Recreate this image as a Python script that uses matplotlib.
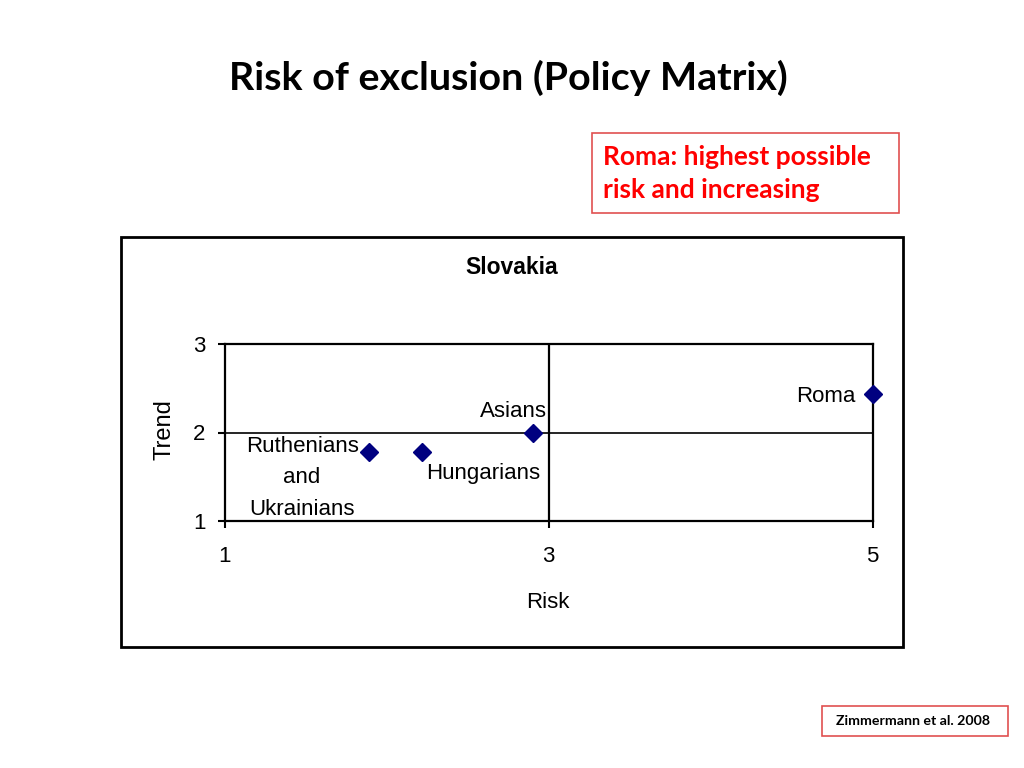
import matplotlib
matplotlib.use("Agg")
import matplotlib.pyplot as plt
from matplotlib.patches import Rectangle

# Data
groups = ["Ruthenians\nand\nUkrainians", "Hungarians", "Asians", "Roma"]
risk = [1.89, 2.22, 2.90, 5.0]
trend = [1.78, 1.78, 2.0, 2.44]
x_ticks = [1, 3, 5]
y_ticks = [1, 2, 3]

fig = plt.figure(figsize=(10.24, 7.68), dpi=100)
fig.patch.set_facecolor("white")

# slide title
fig.text(508/1024, 1-78/768, "Risk of exclusion (Policy Matrix)", ha="center", va="center",
         fontsize=28.4, fontweight="bold", family="Lato")

# red note box
fig.patches.append(Rectangle((592/1024, 1-213/768), 307/1024, 80/768, transform=fig.transFigure,
                             fill=False, edgecolor="#e05050", linewidth=1.2))
fig.text(603/1024, 1-157/768, "Roma: highest possible", ha="left", va="center",
         fontsize=19, fontweight="bold", color="#ff0000", family="Lato")
fig.text(603/1024, 1-190/768, "risk and increasing", ha="left", va="center",
         fontsize=19, fontweight="bold", color="#ff0000", family="Lato")

# source box
fig.patches.append(Rectangle((822/1024, 1-736/768), 186/1024, 30/768, transform=fig.transFigure,
                             fill=False, edgecolor="#e05050", linewidth=1.2))
fig.text(913/1024, 1-721/768, "Zimmermann et al. 2008", ha="center", va="center",
         fontsize=10.2, fontweight="bold", color="black", family="Lato")

# chart border
fig.patches.append(Rectangle((121/1024, 1-647/768), 782/1024, 410/768, transform=fig.transFigure,
                             fill=False, edgecolor="black", linewidth=2))

fig.text(512/1024, 1-268/768, "Slovakia", ha="center", va="center",
         fontsize=16.5, fontweight="bold", family="Liberation Sans")

ax = fig.add_axes([225/1024, 1-521/768, 647.5/1024, 177/768])
ax.set_xlim(1, 5)
ax.set_ylim(1, 3)
ax.set_xticks(x_ticks)
ax.set_yticks(y_ticks)
for s in ax.spines.values():
    s.set_linewidth(1.6)
    s.set_color("black")
ax.axhline(2, color="black", lw=1.2, zorder=1)
ax.axvline(3, color="black", lw=1.6, zorder=1)
ax.tick_params(axis="both", direction="out", length=5, width=1.5, labelsize=16)
ax.tick_params(axis="x", pad=13)
ax.tick_params(axis="y", pad=9)
for lab in ax.get_xticklabels() + ax.get_yticklabels():
    lab.set_family("Liberation Sans")
ax.set_xlabel("Risk", fontsize=16, family="Liberation Sans")
ax.set_ylabel("Trend", fontsize=17, family="Liberation Sans")
ax.xaxis.set_label_coords(0.499, -0.40)
ax.yaxis.set_label_coords(-0.077, 0.514)

ax.plot(risk, trend, linestyle="none", marker="D", markersize=9, color="#000080", clip_on=False, zorder=3)

fs = 16
ax.annotate(groups[0], (risk[0], trend[0]), xytext=(-67, -26), textcoords="offset pixels",
            ha="center", va="center", fontsize=fs, family="Liberation Sans", linespacing=1.68)
ax.annotate(groups[1], (risk[1], trend[1]), xytext=(61, -22), textcoords="offset pixels",
            ha="center", va="center", fontsize=fs, family="Liberation Sans")
ax.annotate(groups[2], (risk[2], trend[2]), xytext=(-19, 21), textcoords="offset pixels",
            ha="center", va="center", fontsize=fs, family="Liberation Sans")
ax.annotate(groups[3], (risk[3], trend[3]), xytext=(-17, -3), textcoords="offset pixels",
            ha="right", va="center", fontsize=fs, family="Liberation Sans")

fig.savefig("out.png", dpi=100)
